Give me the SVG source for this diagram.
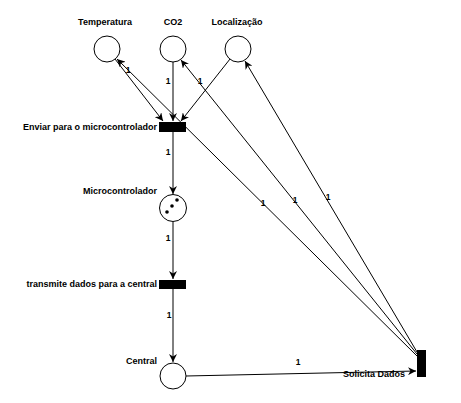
<svg xmlns="http://www.w3.org/2000/svg" width="461" height="403" viewBox="0 0 461 403">
<defs>
<marker id="arr" viewBox="0 0 10 10" refX="10" refY="5" markerWidth="8" markerHeight="8" markerUnits="userSpaceOnUse" orient="auto">
<path d="M0,0 L10,5 L0,10 L3,5 Z" fill="#000"/>
</marker>
<style>
.place{fill:#fff;stroke:#000;stroke-width:1}
.trans{fill:#000}
.lbl{font-family:"Liberation Sans",Arial,sans-serif;font-size:9px;font-weight:bold;fill:#000}
.w{font-family:"Liberation Sans",Arial,sans-serif;font-size:8.5px;font-weight:bold;fill:#000;text-anchor:middle}
.arc{fill:none;stroke:#000;stroke-width:1;marker-end:url(#arr)}
</style>
</defs>
<rect width="461" height="403" fill="#fff"/>
<g id="connectors">
<line class="arc" x1="115" y1="59" x2="163" y2="121"/>
<line class="arc" x1="173" y1="62" x2="173" y2="121"/>
<line class="arc" x1="230" y1="59" x2="181" y2="121"/>
<line class="arc" x1="173" y1="132" x2="173" y2="194"/>
<line class="arc" x1="173" y1="222" x2="173" y2="279"/>
<line class="arc" x1="173" y1="289" x2="173" y2="362"/>
<line class="arc" x1="186" y1="376" x2="416" y2="371"/>
<line class="arc" x1="417" y1="356" x2="117" y2="59"/>
<line class="arc" x1="417" y1="354" x2="181" y2="60"/>
<line class="arc" x1="417" y1="352" x2="245" y2="61"/>
<text class="w" x="128" y="73">1</text>
<text class="w" x="168" y="84">1</text>
<text class="w" x="200" y="84">1</text>
<text class="w" x="168" y="155">1</text>
<text class="w" x="168" y="241">1</text>
<text class="w" x="169" y="318">1</text>
<text class="w" x="298" y="365">1</text>
<text class="w" x="263" y="206">1</text>
<text class="w" x="295" y="203">1</text>
<text class="w" x="328" y="200">1</text>
</g>
<g id="temperatura">
<circle class="place" cx="107" cy="49" r="13"/>
<text class="lbl" x="105" y="25" text-anchor="middle">Temperatura</text>
</g>
<g id="co2">
<circle class="place" cx="173" cy="49" r="13"/>
<text class="lbl" x="173" y="25" text-anchor="middle">CO2</text>
</g>
<g id="localizacao">
<circle class="place" cx="238" cy="49" r="13"/>
<text class="lbl" x="237" y="25" text-anchor="middle">Localização</text>
</g>
<g id="enviar">
<rect class="trans" x="159" y="122" width="27" height="10"/>
<text class="lbl" x="157" y="130" text-anchor="end">Enviar para o microcontrolador</text>
</g>
<g id="microcontrolador">
<circle class="place" cx="173" cy="208" r="13.5"/>
<circle cx="177" cy="200" r="1.8" fill="#000"/>
<circle cx="172" cy="206" r="1.8" fill="#000"/>
<circle cx="167" cy="212" r="1.8" fill="#000"/>
<text class="lbl" x="157" y="194" text-anchor="end">Microcontrolador</text>
</g>
<g id="transmite">
<rect class="trans" x="159" y="280" width="27" height="9"/>
<text class="lbl" x="157" y="287" text-anchor="end">transmite dados para a central</text>
</g>
<g id="central">
<circle class="place" cx="173" cy="376" r="13"/>
<text class="lbl" x="157" y="364" text-anchor="end">Central</text>
</g>
<g id="solicita">
<rect class="trans" x="417" y="350" width="9" height="27"/>
<text class="lbl" x="405" y="377" text-anchor="end">Solicita Dados</text>
</g>
</svg>
